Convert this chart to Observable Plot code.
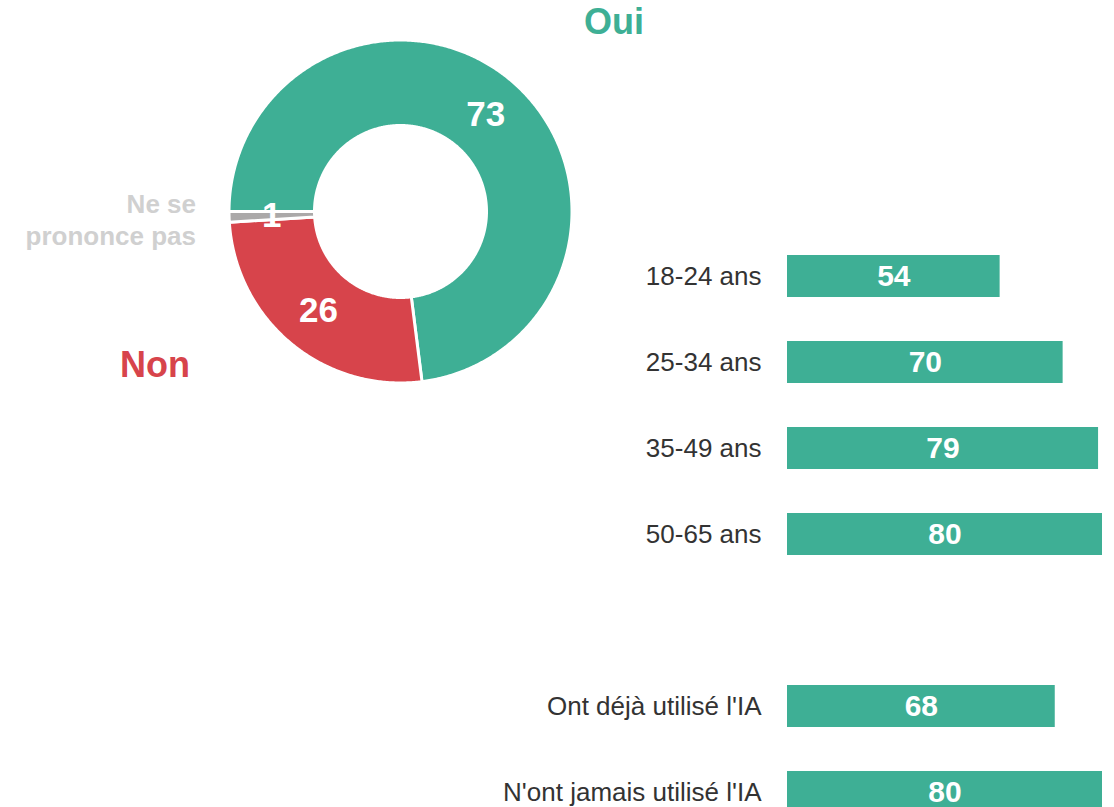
<!DOCTYPE html>
<html><head><meta charset="utf-8">
<script src="https://cdn.jsdelivr.net/npm/d3@7"></script>
<script src="https://cdn.jsdelivr.net/npm/@observablehq/plot@0.6"></script>
<style>
html,body{margin:0;padding:0;background:#fff;overflow:hidden}
#root{position:relative;width:1114px;height:807px;overflow:hidden;font-family:"Liberation Sans",Arial,Helvetica,sans-serif}
#donut{position:absolute;left:0;top:0}
#bars{position:absolute;left:480px;top:230px}
.lbl{position:absolute;font-weight:bold;white-space:nowrap}
</style></head><body>
<div id="root">
  <div id="donut"></div>
  <div id="bars"></div>
  <div class="lbl" id="lblOui" style="left:564px;width:100px;text-align:center;top:4px;font-size:36px;line-height:36px;color:#3EAF95">Oui</div>
  <div class="lbl" id="lblNon" style="left:105px;width:100px;text-align:center;top:347px;font-size:36px;line-height:36px;color:#D7444B">Non</div>
  <div class="lbl" id="lblNsp" style="left:0;width:196px;text-align:right;top:188px;font-size:26px;line-height:32px;color:#D0D0D0">Ne se<br>prononce pas</div>
</div>
<script>
// ---- data ----
const answers = ["Oui", "Non", "Ne se prononce pas"];
const shares = [73, 26, 1];
const answerColors = ["#3EAF95", "#D7444B", "#ABA9A9"];

const groups = ["18-24 ans", "25-34 ans", "35-49 ans", "50-65 ans", "Ont déjà utilisé l'IA", "N'ont jamais utilisé l'IA"];
const groupValues = [54, 70, 79, 80, 68, 80];
const spacer = " ";
const groupOrder = ["18-24 ans", "25-34 ans", "35-49 ans", "50-65 ans", spacer, "Ont déjà utilisé l'IA", "N'ont jamais utilisé l'IA"];
const barColor = "#3EAF95";

const FONT = '"Liberation Sans", Arial, Helvetica, sans-serif';

// ---- donut ----
const pie = d3.pie().sort(null).startAngle(-Math.PI / 2).endAngle(3 * Math.PI / 2)(shares);
const rIn = 87.5, rOut = 170, sw = 3;
const R0 = rIn - sw / 2, R1 = rOut + sw / 2;
const pts = [];
pie.forEach((s, i) => {
  const key = answers[i];
  const n = Math.max(2, Math.ceil((s.endAngle - s.startAngle) / (Math.PI / 360)));
  for (let k = 0; k <= n; k++) {
    const a = s.startAngle + (s.endAngle - s.startAngle) * k / n;
    pts.push({key, x: R1 * Math.sin(a), y: R1 * Math.cos(a)});
  }
  for (let k = n; k >= 0; k--) {
    const a = s.startAngle + (s.endAngle - s.startAngle) * k / n;
    pts.push({key, x: R0 * Math.sin(a), y: R0 * Math.cos(a)});
  }
});
const rMid = (rIn + rOut) / 2;
const cents = pie.map((s, i) => {
  const a = (s.startAngle + s.endAngle) / 2;
  return {key: answers[i], v: shares[i], x: rMid * Math.sin(a), y: rMid * Math.cos(a)};
});

const donut = Plot.plot({
  width: 660, height: 420, margin: 0,
  style: {fontFamily: FONT, background: "transparent", overflow: "visible"},
  x: {domain: [-400, 260], axis: null},
  y: {domain: [-209, 211], axis: null},
  color: {domain: answers, range: answerColors},
  marks: [
    Plot.line(pts, {x: "x", y: "y", z: "key", fill: "key", stroke: "white", strokeWidth: sw, curve: "linear-closed"}),
    Plot.text(cents, {x: "x", y: "y", text: d => String(d.v), fill: "white", fontSize: 35, fontWeight: "bold"})
  ]
});
document.getElementById("donut").appendChild(donut);

// ---- bars ----
const barData = groups.map((g, i) => ({group: g, value: groupValues[i]}));
const bars = Plot.plot({
  width: 634, height: 583,
  marginLeft: 307, marginRight: 12, marginTop: 25, marginBottom: 0,
  style: {fontFamily: FONT, background: "transparent", overflow: "visible"},
  x: {domain: [0, 80], axis: null},
  y: {domain: groupOrder, axis: null, paddingInner: 0.5116, paddingOuter: 0, round: false},
  marks: [
    Plot.barX(barData, {x: "value", y: "group", fill: barColor}),
    Plot.text(barData, {x: d => d.value / 2, y: "group", text: d => String(d.value), fill: "white", fontSize: 30, fontWeight: "bold"}),
    Plot.text(barData, {x: 0, y: "group", text: "group", textAnchor: "end", dx: -26, fontSize: 26, fill: "#333333"})
  ]
});
document.getElementById("bars").appendChild(bars);
</script>
</body></html>
